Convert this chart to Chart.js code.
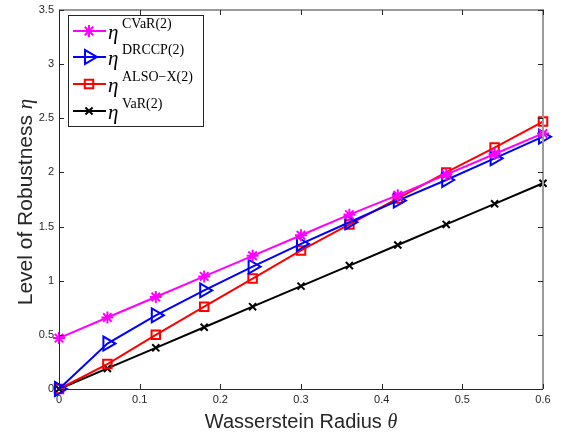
<!DOCTYPE html>
<html>
<head>
<meta charset="utf-8">
<script src="https://cdn.jsdelivr.net/npm/chart.js@4.4.1/dist/chart.umd.min.js"></script>
<style>
  html, body { margin: 0; padding: 0; background: #fff; }
  #wrap { width: 564px; height: 438px; position: relative; }
</style>
</head>
<body>
<div id="wrap"><canvas id="chart" width="564" height="438"></canvas></div>
<script>
// x values (Wasserstein radius)
let radius = [0, 0.06, 0.12, 0.18, 0.24, 0.30, 0.36, 0.42, 0.48, 0.54, 0.60];

// robustness levels
let etaCVaR  = [0.47, 0.66, 0.85, 1.04, 1.23, 1.42, 1.61, 1.79, 1.98, 2.17, 2.36];
let etaDRCCP = [0.00, 0.42, 0.68, 0.91, 1.13, 1.34, 1.54, 1.74, 1.93, 2.13, 2.33];
let etaALSO  = [0.00, 0.23, 0.50, 0.76, 1.02, 1.28, 1.52, 1.76, 2.00, 2.23, 2.47];
let etaVaR   = [0.00, 0.19, 0.38, 0.57, 0.76, 0.95, 1.14, 1.33, 1.52, 1.71, 1.90];

let xTicks = [0, 0.1, 0.2, 0.3, 0.4, 0.5, 0.6];
let yTicks = [0, 0.5, 1, 1.5, 2, 2.5, 3, 3.5];

let legendSup = ["CVaR(2)", "DRCCP(2)", "ALSO\u2212X(2)", "VaR(2)"];

const SANS = '"Liberation Sans", Arial, sans-serif';
const SERIF = '"Liberation Serif", "DejaVu Serif", serif';
const AXIS = "#262626";

function pts(ys) {
    return ys.map((y, i) => ({ x: radius[i], y: y }));
}

function series(ys, color, style, r, rot) {
    return {
        data: pts(ys),
        borderColor: color,
        backgroundColor: "rgba(0,0,0,0)",
        borderWidth: 2,
        pointStyle: style,
        pointRadius: r,
        pointRotation: rot || 0,
        pointBorderWidth: 2,
        pointBorderColor: color,
        pointBackgroundColor: "rgba(0,0,0,0)",
        tension: 0,
        clip: false
    };
}

let datasets = [
    series(etaCVaR, "#ff00ff", "star", 6),
    series(etaDRCCP, "#0000ff", "triangle", 8, 90),
    series(etaALSO, "#ff0000", "rect", 6),
    series(etaVaR, "#000000", "crossRot", 5)
];

/* frame, ticks, labels, titles and legend in MATLAB style */
const matlabAxes = {
    id: "matlabAxes",
    afterDraw(chart) {
        let ctx = chart.ctx;
        let a = chart.chartArea;
        let xs = chart.scales.x, ys = chart.scales.y;
        let L = Math.round(a.left), R = Math.round(a.right);
        let T = Math.round(a.top), B = Math.round(a.bottom);
        ctx.save();

        // top and right edges (lighter, as in the figure)
        ctx.strokeStyle = "#9a9a9a";
        ctx.lineWidth = 2;
        ctx.beginPath();
        ctx.moveTo(L, T); ctx.lineTo(R, T); ctx.lineTo(R, B);
        ctx.stroke();

        // left and bottom axes
        ctx.strokeStyle = AXIS;
        ctx.lineWidth = 1;
        ctx.beginPath();
        ctx.moveTo(L + 0.5, T); ctx.lineTo(L + 0.5, B + 0.5); ctx.lineTo(R, B + 0.5);
        ctx.stroke();

        // ticks pointing inward
        ctx.beginPath();
        xTicks.forEach(t => {
            let px = Math.round(xs.getPixelForValue(t)) + 0.5;
            ctx.moveTo(px, B); ctx.lineTo(px, B - 5);
            ctx.moveTo(px, T); ctx.lineTo(px, T + 5);
        });
        yTicks.forEach(t => {
            let py = Math.round(ys.getPixelForValue(t)) + 0.5;
            ctx.moveTo(L, py); ctx.lineTo(L + 5, py);
            ctx.moveTo(R, py); ctx.lineTo(R - 5, py);
        });
        ctx.stroke();

        // tick labels
        ctx.fillStyle = AXIS;
        ctx.font = "11px " + SANS;
        ctx.textAlign = "center";
        ctx.textBaseline = "top";
        xTicks.forEach(t => {
            ctx.fillText(String(t), xs.getPixelForValue(t), B + 5);
        });
        ctx.textAlign = "right";
        ctx.textBaseline = "middle";
        yTicks.forEach(t => {
            ctx.fillText(String(t), L - 5, ys.getPixelForValue(t));
        });

        // x title
        ctx.textBaseline = "alphabetic";
        ctx.textAlign = "left";
        ctx.font = "20px " + SANS;
        let xt = "Wasserstein Radius ";
        let w1 = ctx.measureText(xt).width;
        ctx.font = "italic 20px " + SERIF;
        let w2 = ctx.measureText("\u03b8").width;
        let cx = (a.left + a.right) / 2;
        let sx = cx - (w1 + w2) / 2;
        ctx.font = "20px " + SANS;
        ctx.fillText(xt, sx, 428);
        ctx.font = "italic 20px " + SERIF;
        ctx.fillText("\u03b8", sx + w1, 428);

        // y title
        ctx.save();
        ctx.translate(32, 202);
        ctx.rotate(-Math.PI / 2);
        ctx.font = "21px " + SANS;
        let yt = "Level of Robustness ";
        let v1 = ctx.measureText(yt).width;
        ctx.font = "italic 21px " + SERIF;
        let v2 = ctx.measureText("\u03b7").width;
        let sy = -(v1 + v2) / 2;
        ctx.font = "21px " + SANS;
        ctx.fillText(yt, sy, 0);
        ctx.font = "italic 21px " + SERIF;
        ctx.fillText("\u03b7", sy + v1, 0);
        ctx.restore();

        // legend
        let bx = 68, by = 15, bw = 135, bh = 111;
        ctx.fillStyle = "#fff";
        ctx.fillRect(bx, by, bw, bh);
        ctx.strokeStyle = AXIS;
        ctx.lineWidth = 1;
        ctx.strokeRect(bx + 0.5, by + 0.5, bw, bh);
        let rows = [31, 57, 84, 111];
        datasets.forEach((ds, i) => {
            let y = rows[i];
            ctx.strokeStyle = ds.borderColor;
            ctx.lineWidth = 2;
            ctx.beginPath();
            ctx.moveTo(73, y); ctx.lineTo(106, y);
            ctx.stroke();
            ctx.fillStyle = "rgba(0,0,0,0)";
            Chart.helpers.drawPoint(ctx, {
                pointStyle: ds.pointStyle,
                radius: ds.pointRadius,
                rotation: ds.pointRotation,
                borderWidth: 2
            }, 89, y);
            ctx.fillStyle = "#000";
            ctx.textAlign = "left";
            ctx.textBaseline = "alphabetic";
            ctx.font = "italic 21px " + SERIF;
            ctx.fillText("\u03b7", 108, y + 8);
            ctx.font = "14px " + SERIF;
            ctx.fillText(legendSup[i], 122, y - 3);
        });

        ctx.restore();
    }
};

let chart = new Chart(document.getElementById("chart"), {
    type: "line",
    data: { datasets: datasets },
    options: {
        responsive: false,
        animation: false,
        events: [],
        layout: { padding: { left: 0, right: 21, top: 6, bottom: 0 } },
        plugins: { legend: { display: false }, tooltip: { enabled: false } },
        scales: {
            x: {
                type: "linear", min: 0, max: 0.6,
                grid: { display: false }, border: { display: false },
                ticks: { display: false },
                afterFit: s => { s.height = 49; }
            },
            y: {
                min: 0, max: 3.5,
                grid: { display: false }, border: { display: false },
                ticks: { display: false },
                afterFit: s => { s.width = 59; }
            }
        }
    },
    plugins: [matlabAxes]
});
</script>
</body>
</html>
